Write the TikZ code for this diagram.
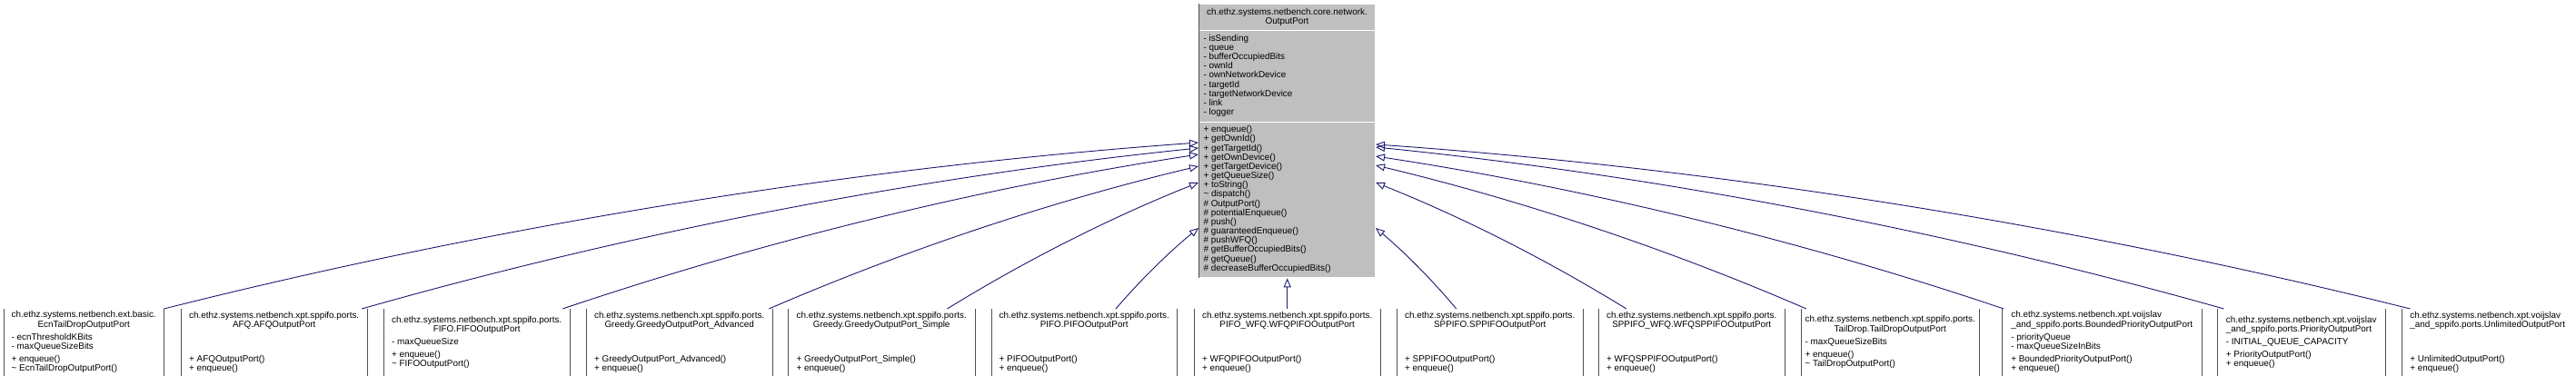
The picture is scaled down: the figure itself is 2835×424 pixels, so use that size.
\documentclass[tikz,border=0pt]{standalone}
\usepackage{fontspec}
\setmainfont{Liberation Sans}
\usetikzlibrary{arrows.meta,positioning,calc,shapes.multipart}
\definecolor{edgeblue}{RGB}{25,25,112}
\definecolor{basegray}{RGB}{191,191,191}
\definecolor{sidegray}{RGB}{80,80,80}
\newcommand{\ctitle}[1]{\multicolumn{1}{@{}c@{}}{#1}}
\tikzset{
  inh/.style={-{Triangle[open, length=10pt, width=8pt]}, edgeblue, line width=0.9pt},
  basecls/.style={rectangle split, rectangle split parts=3, draw=white, line width=1pt,
              fill=basegray, rectangle split part align={center,left,left},
              minimum width=194pt, inner xsep=5pt, inner ysep=4pt, anchor=north west,
              font=\fontsize{9.9}{10}\selectfont},
  subcls/.style={minimum height=74pt, inner xsep=4pt, inner ysep=2pt, anchor=north west,
              font=\fontsize{9.9}{10}\selectfont},
  side/.style={sidegray, line width=1pt},
}

\begin{document}
\begin{tikzpicture}[x=1pt, y=1pt]
  \useasboundingbox (0,0) rectangle (2835,424);
  % base class
  \node[basecls] (base) at (1319,420)
    {\begin{tabular}{@{}c@{}}ch.ethz.systems.netbench.core.network.\\OutputPort\end{tabular}
     \nodepart{two}
     \begin{tabular}{@{}l@{}}- isSending\\- queue\\- bufferOccupiedBits\\- ownId\\- ownNetworkDevice\\
       - targetId\\- targetNetworkDevice\\- link\\- logger\end{tabular}
     \nodepart{three}
     \begin{tabular}{@{}l@{}}+ enqueue()\\+ getOwnId()\\+ getTargetId()\\+ getOwnDevice()\\
       + getTargetDevice()\\+ getQueueSize()\\+ toString()\\\textasciitilde{} dispatch()\\
       \# OutputPort()\\\# potentialEnqueue()\\\# push()\\\# guaranteedEnqueue()\\\# pushWFQ()\\
       \# getBufferOccupiedBits()\\\# getQueue()\\\# decreaseBufferOccupiedBits()\end{tabular}};
  \draw[side] (base.north west) -- (base.south west);

  % subclasses
  \node[subcls, minimum width=176pt] (ecn) at (4,84)
    {\begin{tabular}{@{}l@{}}\ctitle{ch.ethz.systems.netbench.ext.basic.}\\\ctitle{EcnTailDropOutputPort}\\[4pt]
     - ecnThresholdKBits\\- maxQueueSizeBits\\[4pt]+ enqueue()\\\textasciitilde{} EcnTailDropOutputPort()\end{tabular}};
  \node[subcls, minimum width=205pt] (afq) at (199,84)
    {\begin{tabular}{@{}l@{}}\ctitle{ch.ethz.systems.netbench.xpt.sppifo.ports.}\\\ctitle{AFQ.AFQOutputPort}\\[4pt]
     \\\\[4pt]+ AFQOutputPort()\\+ enqueue()\end{tabular}};
  \node[subcls, minimum width=205pt] (fifo) at (422,84)
    {\begin{tabular}{@{}l@{}}\ctitle{ch.ethz.systems.netbench.xpt.sppifo.ports.}\\\ctitle{FIFO.FIFOOutputPort}\\[4pt]
     - maxQueueSize\\[4pt]+ enqueue()\\\textasciitilde{} FIFOOutputPort()\end{tabular}};
  \node[subcls, minimum width=205pt] (gadv) at (645,84)
    {\begin{tabular}{@{}l@{}}\ctitle{ch.ethz.systems.netbench.xpt.sppifo.ports.}\\\ctitle{Greedy.GreedyOutputPort\_Advanced}\\[4pt]
     \\\\[4pt]+ GreedyOutputPort\_Advanced()\\+ enqueue()\end{tabular}};
  \node[subcls, minimum width=206pt] (gsim) at (867,84)
    {\begin{tabular}{@{}l@{}}\ctitle{ch.ethz.systems.netbench.xpt.sppifo.ports.}\\\ctitle{Greedy.GreedyOutputPort\_Simple}\\[4pt]
     \\\\[4pt]+ GreedyOutputPort\_Simple()\\+ enqueue()\end{tabular}};
  \node[subcls, minimum width=204pt] (pifo) at (1091,84)
    {\begin{tabular}{@{}l@{}}\ctitle{ch.ethz.systems.netbench.xpt.sppifo.ports.}\\\ctitle{PIFO.PIFOOutputPort}\\[4pt]
     \\\\[4pt]+ PIFOOutputPort()\\+ enqueue()\end{tabular}};
  \node[subcls, minimum width=205pt] (wfqpifo) at (1314,84)
    {\begin{tabular}{@{}l@{}}\ctitle{ch.ethz.systems.netbench.xpt.sppifo.ports.}\\\ctitle{PIFO\_WFQ.WFQPIFOOutputPort}\\[4pt]
     \\\\[4pt]+ WFQPIFOOutputPort()\\+ enqueue()\end{tabular}};
  \node[subcls, minimum width=205pt] (sppifo) at (1537,84)
    {\begin{tabular}{@{}l@{}}\ctitle{ch.ethz.systems.netbench.xpt.sppifo.ports.}\\\ctitle{SPPIFO.SPPIFOOutputPort}\\[4pt]
     \\\\[4pt]+ SPPIFOOutputPort()\\+ enqueue()\end{tabular}};
  \node[subcls, minimum width=205pt] (wfqsppifo) at (1759,84)
    {\begin{tabular}{@{}l@{}}\ctitle{ch.ethz.systems.netbench.xpt.sppifo.ports.}\\\ctitle{SPPIFO\_WFQ.WFQSPPIFOOutputPort}\\[4pt]
     \\\\[4pt]+ WFQSPPIFOOutputPort()\\+ enqueue()\end{tabular}};
  \node[subcls, minimum width=196pt] (taildrop) at (1982,84)
    {\begin{tabular}{@{}l@{}}\ctitle{ch.ethz.systems.netbench.xpt.sppifo.ports.}\\\ctitle{TailDrop.TailDropOutputPort}\\[4pt]
     - maxQueueSizeBits\\[4pt]+ enqueue()\\\textasciitilde{} TailDropOutputPort()\end{tabular}};
  \node[subcls, minimum width=220pt] (bounded) at (2203,84)
    {\begin{tabular}{@{}l@{}}ch.ethz.systems.netbench.xpt.voijslav\\\_and\_sppifo.ports.BoundedPriorityOutputPort\\[4pt]
     - priorityQueue\\- maxQueueSizeInBits\\[4pt]+ BoundedPriorityOutputPort()\\+ enqueue()\end{tabular}};
  \node[subcls, minimum width=185pt] (priority) at (2440,84)
    {\begin{tabular}{@{}l@{}}ch.ethz.systems.netbench.xpt.voijslav\\\_and\_sppifo.ports.PriorityOutputPort\\[4pt]
     - INITIAL\_QUEUE\_CAPACITY\\[4pt]+ PriorityOutputPort()\\+ enqueue()\end{tabular}};
  \node[subcls, minimum width=189pt] (unlimited) at (2643,84)
    {\begin{tabular}{@{}l@{}}ch.ethz.systems.netbench.xpt.voijslav\\\_and\_sppifo.ports.UnlimitedOutputPort\\[4pt]
     \\\\[4pt]+ UnlimitedOutputPort()\\+ enqueue()\end{tabular}};

  \foreach \n in {ecn,afq,fifo,gadv,gsim,pifo,wfqpifo,sppifo,wfqsppifo,taildrop,bounded,priority}{
    \draw[side] (\n.north west) -- (\n.south west);
    \draw[side] (\n.north east) -- (\n.south east);
  }
  \draw[side] (unlimited.north west) -- (unlimited.south west);

  % inheritance edges, slightly bent
  \foreach \n/\f/\y in {ecn/1.00/153, afq/0.97/159, fifo/0.96/166, gadv/0.98/179, gsim/0.85/197, pifo/0.67/247}{
    \coordinate (s) at ($(\n.north west)!\f!(\n.north east)$);
    \coordinate (t) at ($(base.north west)+(0,-\y)$);
    \draw[inh] (s) .. controls ($(s)!0.33!5:(t)$) and ($(t)!0.33!-5:(s)$) .. (t);
  }
  \foreach \n/\f/\y in {unlimited/0.05/155, priority/0.04/158, bounded/0.01/168, taildrop/0.03/178, wfqsppifo/0.15/197, sppifo/0.32/247}{
    \coordinate (s) at ($(\n.north west)!\f!(\n.north east)$);
    \coordinate (t) at ($(base.north east)+(0,-\y)$);
    \draw[inh] (s) .. controls ($(s)!0.33!-5:(t)$) and ($(t)!0.33!5:(s)$) .. (t);
  }
  \draw[inh] (wfqpifo.north) -- (wfqpifo.north |- base.south);
\end{tikzpicture}
\end{document}
